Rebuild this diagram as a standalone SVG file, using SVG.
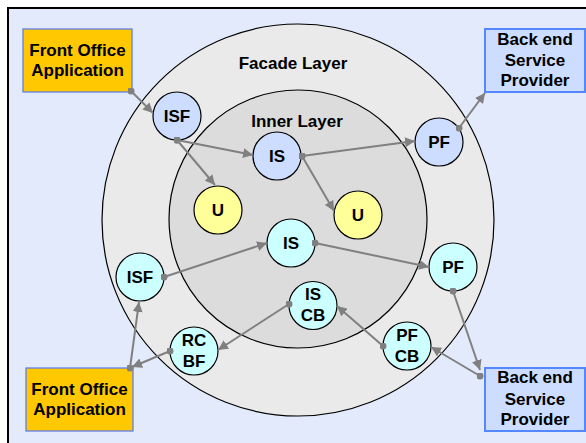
<svg xmlns="http://www.w3.org/2000/svg" width="586" height="443" viewBox="0 0 586 443">
<defs>
<marker id="ah" viewBox="0 0 10 10" refX="10" refY="5" markerWidth="5" markerHeight="5" orient="auto" markerUnits="strokeWidth">
<path d="M0,0 L10,5 L0,10 z" fill="#808080"/>
</marker>
<marker id="dot" viewBox="0 0 10 10" refX="5" refY="5" markerWidth="3.5" markerHeight="3.5" markerUnits="strokeWidth">
<circle cx="5" cy="5" r="5" fill="#808080"/>
</marker>
<style>
text{font-family:"Liberation Sans",Arial,sans-serif;font-weight:bold;font-size:17px;fill:#000;text-anchor:middle}
.n circle{stroke:#000;stroke-width:1.2}
.blue{fill:#CCDDFF}
.yel{fill:#FFFF99}
.cyan{fill:#CCFFFF}
.fo{fill:#FFC800;stroke:#5577EE;stroke-width:1.2}
.be{fill:#CCDDFF;stroke:#5588FF;stroke-width:2}
.c line{stroke:#808080;stroke-width:2;marker-start:url(#dot);marker-end:url(#ah)}
</style>
</defs>
<rect x="0" y="0" width="586" height="443" fill="#FFFFFF"/>
<rect x="8" y="8" width="600" height="460" fill="#E2EAFB" stroke="#000" stroke-width="2"/>
<g id="facade-layer">
<circle cx="298" cy="220" r="196" fill="#EAEAEA" stroke="#000" stroke-width="1.2"/>
<text x="293" y="69">Facade Layer</text>
</g>
<g id="inner-layer">
<circle cx="298" cy="219" r="129" fill="#DCDCDC" stroke="#000" stroke-width="1.2"/>
<text x="297" y="127">Inner Layer</text>
</g>
<g id="fo-top"><rect class="fo" x="23" y="29" width="109" height="63"/><text x="77.5" y="56">Front Office</text><text x="77.5" y="76">Application</text></g>
<g id="be-top"><rect class="be" x="485" y="29" width="100" height="63"/><text x="535" y="45">Back end</text><text x="535" y="66">Service</text><text x="535" y="86">Provider</text></g>
<g id="fo-bottom"><rect class="fo" x="26" y="368" width="107" height="63"/><text x="79.5" y="395">Front Office</text><text x="79.5" y="415">Application</text></g>
<g id="be-bottom"><rect class="be" x="485" y="368" width="100" height="63"/><text x="535" y="383">Back end</text><text x="535" y="405">Service</text><text x="535" y="425">Provider</text></g>
<g id="isf-top" class="n"><circle class="blue" cx="177" cy="116" r="24"/><text x="177" y="122">ISF</text></g>
<g id="is-top" class="n"><circle class="blue" cx="277" cy="156" r="24"/><text x="277" y="162">IS</text></g>
<g id="pf-top" class="n"><circle class="blue" cx="439" cy="142" r="24"/><text x="439" y="148">PF</text></g>
<g id="u-left" class="n"><circle class="yel" cx="218" cy="210" r="24"/><text x="218" y="216">U</text></g>
<g id="u-right" class="n"><circle class="yel" cx="358" cy="215" r="24"/><text x="358" y="221">U</text></g>
<g id="is-mid" class="n"><circle class="cyan" cx="291" cy="243" r="24"/><text x="291" y="249">IS</text></g>
<g id="isf-bottom" class="n"><circle class="cyan" cx="140" cy="277" r="24"/><text x="140" y="283">ISF</text></g>
<g id="pf-mid" class="n"><circle class="cyan" cx="453" cy="267" r="24"/><text x="453" y="273">PF</text></g>
<g id="is-cb" class="n"><circle class="cyan" cx="313" cy="305.5" r="24"/><text x="313" y="300">IS</text><text x="313" y="321">CB</text></g>
<g id="pf-cb" class="n"><circle class="cyan" cx="407" cy="346" r="24"/><text x="407" y="340.5">PF</text><text x="407" y="361.5">CB</text></g>
<g id="rc-bf" class="n"><circle class="cyan" cx="194" cy="351" r="24"/><text x="194" y="346">RC</text><text x="194" y="367">BF</text></g>
<g id="connectors" class="c">
<line x1="131" y1="91" x2="153" y2="113"/>
<line x1="177" y1="140" x2="253" y2="155"/>
<line x1="177" y1="140" x2="215" y2="185"/>
<line x1="302" y1="156" x2="415" y2="141"/>
<line x1="302" y1="156" x2="334" y2="211"/>
<line x1="459" y1="128" x2="485" y2="93"/>
<line x1="164" y1="277" x2="267" y2="243"/>
<line x1="315" y1="243" x2="429" y2="267"/>
<line x1="453" y1="291" x2="480" y2="370"/>
<line x1="480" y1="376" x2="431" y2="347"/>
<line x1="383" y1="346" x2="337" y2="306"/>
<line x1="289" y1="304" x2="218" y2="350"/>
<line x1="170" y1="351" x2="132" y2="367"/>
<line x1="130" y1="368" x2="139" y2="302"/>
</g>
</svg>
